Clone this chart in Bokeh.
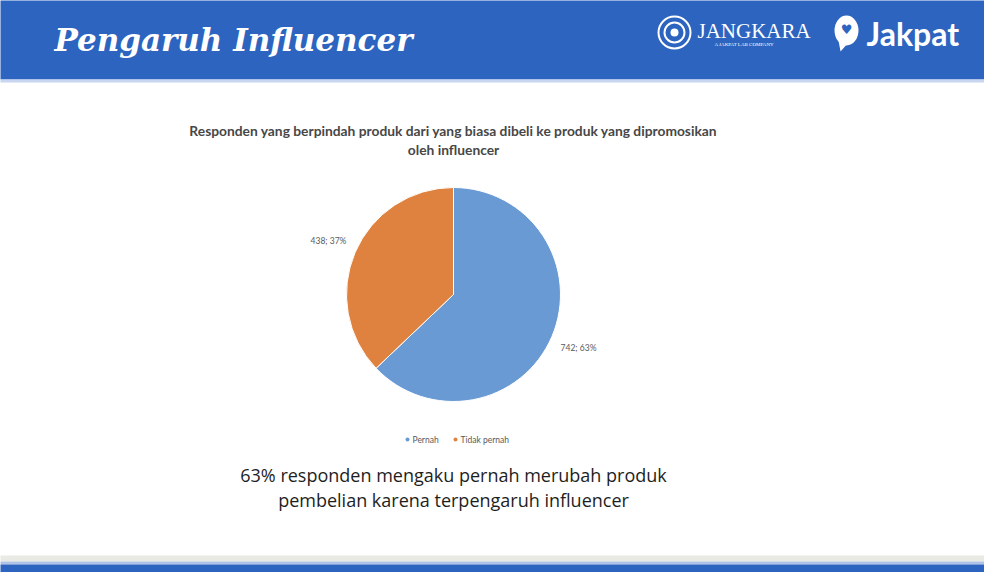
import numpy as np
from bokeh.plotting import figure
from bokeh.models import Range1d
from bokeh.core.properties import value
from bokeh.embed import file_html
from bokeh.resources import INLINE

# ---- data ----
categories = ["Pernah", "Tidak pernah"]
counts = [742, 438]
percents = [63, 37]
colors = ["#6A9AD3", "#E0823F"]

header_title = "Pengaruh Influencer"
chart_title_lines = [
    "Responden yang berpindah produk dari yang biasa dibeli ke produk yang dipromosikan",
    "oleh influencer",
]
caption_lines = [
    "63% responden mengaku pernah merubah produk",
    "pembelian karena terpengaruh influencer",
]
brand_a = "JANGKARA"
brand_a_sub = "A JAKPAT LAB COMPANY"
brand_b = "Jakpat"

# ---- layout helpers (reference pixel coords -> figure coords) ----
W, H = 984, 572
OX, OY = 8, 8


def X(rx):
    return rx - OX


def Y(ry):
    return H - (ry - OY)


p = figure(width=W, height=H, x_range=Range1d(0, W), y_range=Range1d(0, H),
           output_backend="svg", toolbar_location=None, min_border=0,
           x_axis_location=None, y_axis_location=None)
p.grid.visible = False
p.outline_line_color = None
p.background_fill_color = "white"
p.border_fill_color = "white"

BLUE = "#2C64BF"
# header bands
p.quad(left=[X(0)], right=[X(1000)], top=[Y(0)], bottom=[Y(4)], color="#DCE3EF", line_color=None)
p.quad(left=[X(0)], right=[X(1000)], top=[Y(4)], bottom=[Y(87)], color=BLUE, line_color=None)
p.quad(left=[X(0)], right=[X(1000)], top=[Y(87)], bottom=[Y(90)], color="#C8D6EF", line_color=None)
# footer bands
p.quad(left=[X(0)], right=[X(1000)], top=[Y(563)], bottom=[Y(569)], color="#EAEAE4", line_color=None)
p.quad(left=[X(0)], right=[X(1000)], top=[Y(569)], bottom=[Y(572)], color="#AFC3E6", line_color=None)
p.quad(left=[X(0)], right=[X(1000)], top=[Y(572)], bottom=[Y(600)], color=BLUE, line_color=None)

# header title
p.text(x=[X(62)], y=[Y(47)], text=[header_title], text_font=value("DejaVu Serif"),
       text_font_style="bold italic", text_font_size="31px", text_color="white",
       text_baseline="alphabetic", text_align="left")

# Jangkara logo
lcx, lcy = X(682), Y(40)
p.circle(x=[lcx], y=[lcy], radius=16, fill_color=None, line_color="white", line_width=2)
p.circle(x=[lcx], y=[lcy], radius=10, fill_color=None, line_color="white", line_width=2)
p.circle(x=[lcx], y=[lcy], radius=4, fill_color="white", line_color=None)
p.text(x=[X(705)], y=[Y(38)], text=[brand_a], text_font=value("Liberation Serif"),
       text_font_size="21px", text_color="white", text_baseline="middle")
p.text(x=[X(722)], y=[Y(52)], text=[brand_a_sub], text_font=value("Liberation Serif"),
       text_font_size="5px", text_color="white", text_baseline="middle")

# Jakpat logo
p.ellipse(x=[X(854)], y=[Y(38)], width=24, height=30, color="white", line_color=None)
p.patch(x=[X(846), X(856), X(848)], y=[Y(48), Y(50), Y(59)], color="white", line_color=None)
p.text(x=[X(854)], y=[Y(37)], text=["\u2665"], text_font=value("DejaVu Sans"),
       text_font_size="13px", text_color=BLUE, text_align="center", text_baseline="middle")
p.text(x=[X(874)], y=[Y(41)], text=[brand_b], text_font=value("Lato"), text_font_style="bold",
       text_font_size="32px", text_color="white", text_baseline="middle")

# chart title
for i, line in enumerate(chart_title_lines):
    p.text(x=[X(461)], y=[Y(138 + 19 * i)], text=[line], text_font=value("Lato"),
           text_font_style="bold", text_font_size="13.8px", text_color="#474747",
           text_align="center", text_baseline="middle")

# pie
vals = np.array(counts, dtype=float)
fr = vals / vals.sum()
cum = np.cumsum(fr)
start = np.pi / 2 - 2 * np.pi * (cum - fr)
end = np.pi / 2 - 2 * np.pi * cum
cx, cy, r = X(461), Y(302), 107
p.wedge(x=[cx] * len(vals), y=[cy] * len(vals), radius=r, start_angle=list(start),
        end_angle=list(end), direction="clock", fill_color=colors, line_color="white", line_width=1)

mid = (start + end) / 2
lr = 136
lx = cx + lr * np.cos(mid)
ly = cy + lr * np.sin(mid)
labels = [f"{c}; {pc}%" for c, pc in zip(counts, percents)]
p.text(x=list(lx), y=list(ly), text=labels, text_font=value("Lato"), text_font_size="8.5px",
       text_color="#595959", text_align="center", text_baseline="middle")

# legend
leg_x = [X(415), X(463)]
leg_y = [Y(447)] * len(categories)
p.scatter(x=leg_x, y=leg_y, size=4, marker="circle", fill_color=colors, line_color=None)
p.text(x=[v + 5 for v in leg_x], y=leg_y, text=categories, text_font=value("Lato"),
       text_font_size="8.5px", text_color="#595959", text_baseline="middle")

# caption
for i, line in enumerate(caption_lines):
    p.text(x=[X(461)], y=[Y(482 + 25 * i)], text=[line], text_font=value("Open Sans"),
           text_font_size="18px", text_color="#1E1E1E", text_align="center", text_baseline="middle")

open("out.html", "w").write(file_html(p, INLINE))
